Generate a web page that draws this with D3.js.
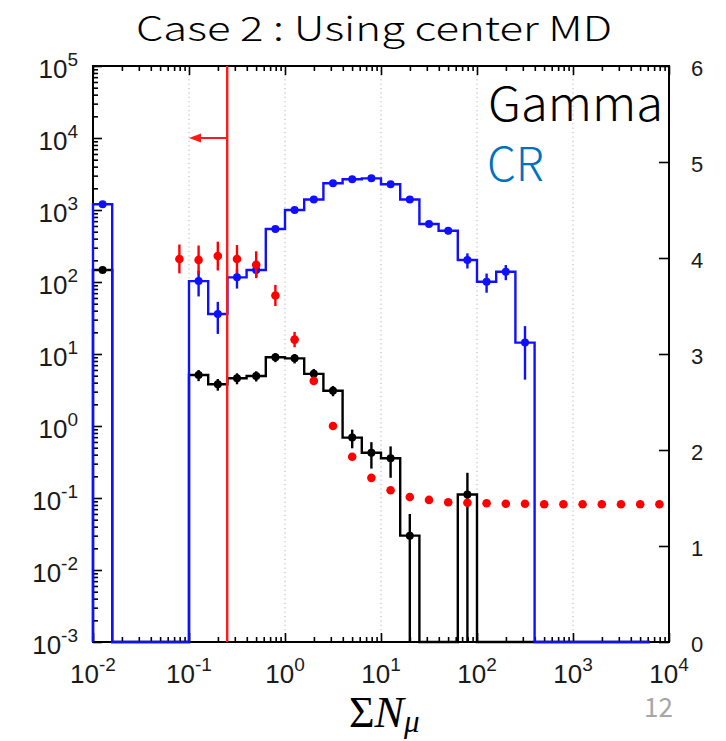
<!DOCTYPE html>
<html>
<head>
<meta charset="utf-8">
<script src="https://cdn.jsdelivr.net/npm/d3@7"></script>
<style>
  body { margin: 0; background: #fff; }
  svg { display: block; }
</style>
</head>
<body>
<svg id="chart" width="726" height="741"></svg>
<script>
// Bin edges as log10 exponents (0.2 decade bins from 1e-2 to 1e4)
const binExp = [-2.0, -1.8, -1.6, -1.4, -1.2, -1.0, -0.8, -0.6, -0.4, -0.2,
                 0.0,  0.2,  0.4,  0.6,  0.8,  1.0,  1.2,  1.4,  1.6,  1.8,
                 2.0,  2.2,  2.4,  2.6,  2.8,  3.0,  3.2,  3.4,  3.6,  3.8, 4.0];

// CR histogram (blue)
const crCounts = [1200, 0, 0, 0, 0, 103, 36, 116, 147, 545,
                  1000, 1400, 2350, 2670, 2750, 2280, 1400, 640, 516, 202,
                  101, 139, 14.4, 0, 0, 0, 0, 0, 0];
const crErrors = [35, 0, 0, 0, 0, 40, 17, 35, 30, 55,
                  70, 85, 110, 115, 120, 110, 85, 60, 55, 48,
                  30, 33, 10, 0, 0, 0, 0, 0, 0];

// Gamma histogram (black)
const gammaCounts = [147, 0, 0, 0, 0, 5.1, 3.8, 4.6, 4.95, 9.0,
                     8.7, 5.3, 3.09, 0.69, 0.426, 0.356, 0.030, 0, 0, 0.112,
                     0, 0, 0, 0, 0, 0, 0, 0, 0];
const gammaErrors = [12, 0, 0, 0, 0, 0.9, 0.7, 0.8, 0.8, 1.3,
                     1.3, 0.9, 0.5, 0.2, 0.17, 0.165, 0.03, 0, 0, 0.112,
                     0, 0, 0, 0, 0, 0, 0, 0, 0];

// Right-axis quantity (red points)
const ratioValues = [null, null, null, null, 3.99, 3.98, 4.02, 3.99, 3.93, 3.61,
                     3.15, 2.72, 2.25, 1.93, 1.71, 1.58, 1.51, 1.48, 1.455, 1.45,
                     1.445, 1.44, 1.44, 1.435, 1.435, 1.435, 1.435, 1.435, 1.435, 1.435];
const ratioErrors = [0, 0, 0, 0, 0.15, 0.15, 0.15, 0.145, 0.14, 0.11,
                     0.08, 0.04, 0, 0, 0, 0, 0, 0, 0, 0,
                     0, 0, 0, 0, 0, 0, 0, 0, 0, 0];

const cutValue = 0.25;
const arrowTarget = 0.1;
const arrowLevel = 1e4;

const xTickExp = [-2, -1, 0, 1, 2, 3, 4];
const yTickExp = [-3, -2, -1, 0, 1, 2, 3, 4, 5];
const y2Ticks = [0, 1, 2, 3, 4, 5, 6];

const titleText = "Case 2 : Using center MD";
const legendGamma = "Gamma";
const legendCR = "CR";
const pageNumber = "12";

// ---- layout ----
const L = 93, R = 669, T = 66, B = 642;
const svg = d3.select("#chart");

const x = d3.scaleLog().domain([1e-2, 1e4]).range([L, R]);
const y = d3.scaleLog().domain([1e-3, 1e5]).range([B, T]).clamp(true);
const y2 = d3.scaleLinear().domain([0, 6]).range([B, T]);

const edges = binExp.map(e => Math.pow(10, e));
const centers = edges.slice(0, -1).map((e, i) => Math.sqrt(e * edges[i + 1]));

// grid (vertical dotted lines at decades)
svg.append("g").selectAll("line")
  .data(xTickExp.slice(1, -1))
  .join("line")
  .attr("x1", d => x(Math.pow(10, d))).attr("x2", d => x(Math.pow(10, d)))
  .attr("y1", T).attr("y2", B)
  .attr("stroke", "#b0b0b0").attr("stroke-width", 1)
  .attr("stroke-dasharray", "1.2,3.2");

// ---- axes (ticks only; labels drawn separately) ----
const minorX = [], minorY = [];
for (let d = -2; d < 4; d++) for (let k = 2; k <= 9; k++) minorX.push(k * Math.pow(10, d));
for (let d = -3; d < 5; d++) for (let k = 2; k <= 9; k++) minorY.push(k * Math.pow(10, d));
const majorX = xTickExp.map(e => Math.pow(10, e));
const majorY = yTickExp.map(e => Math.pow(10, e));

function tickAxis(axisFn, scale, values, size, transform) {
  const g = svg.append("g").attr("transform", transform)
    .call(axisFn(scale).tickValues(values).tickSizeInner(size).tickSizeOuter(0).tickFormat(""));
  g.select(".domain").remove();
  g.selectAll(".tick line").attr("stroke", "#000").attr("stroke-width", 1.6);
  return g;
}
tickAxis(d3.axisBottom, x, majorX, -9, `translate(0,${B})`);
tickAxis(d3.axisBottom, x, minorX, -5, `translate(0,${B})`);
tickAxis(d3.axisTop, x, majorX, -9, `translate(0,${T})`);
tickAxis(d3.axisTop, x, minorX, -5, `translate(0,${T})`);
tickAxis(d3.axisLeft, y, majorY, -9, `translate(${L},0)`);
tickAxis(d3.axisLeft, y, minorY, -5, `translate(${L},0)`);
tickAxis(d3.axisRight, y2, y2Ticks, -10, `translate(${R},0)`);

// frame
svg.append("rect").attr("x", L).attr("y", T).attr("width", R - L).attr("height", B - T)
  .attr("fill", "none").attr("stroke", "#000").attr("stroke-width", 2);

// ---- tick labels ----
const labelFont = "'Liberation Sans', Arial, Helvetica, sans-serif";
function powLabel(px, py, exp, anchor) {
  const t = svg.append("text").attr("x", px).attr("y", py)
    .attr("text-anchor", anchor)
    .attr("font-family", labelFont).attr("font-size", 26).attr("fill", "#1a1a1a");
  t.append("tspan").text("10");
  t.append("tspan").attr("dy", -12).attr("font-size", 19).text(String(exp));
}
yTickExp.forEach(e => powLabel(78, y(Math.pow(10, e)) + 12, e, "end"));
xTickExp.forEach(e => powLabel(x(Math.pow(10, e)), 683, e, "middle"));
y2Ticks.forEach(v => {
  svg.append("text").attr("x", 691).attr("y", y2(v) + 10)
    .attr("font-family", labelFont).attr("font-size", 22).attr("fill", "#1a1a1a")
    .text(v);
});

// ---- histograms ----
const plot = svg.append("g");
function histPath(counts) {
  const pts = [[edges[0], null]];
  counts.forEach((c, i) => { pts.push([edges[i], c]); pts.push([edges[i + 1], c]); });
  pts.push([edges[counts.length], null]);
  return d3.line()
    .x(p => x(p[0]))
    .y(p => (p[1] && p[1] > 0) ? y(p[1]) : B)(pts);
}
function drawHist(counts, errors, color) {
  plot.append("path").attr("d", histPath(counts))
    .attr("fill", "none").attr("stroke", color).attr("stroke-width", 2.4)
    .attr("stroke-linejoin", "miter");
  const idx = counts.map((c, i) => i).filter(i => counts[i] > 0);
  plot.append("g").selectAll("line").data(idx).join("line")
    .attr("x1", i => x(centers[i])).attr("x2", i => x(centers[i]))
    .attr("y1", i => y(counts[i] + errors[i]))
    .attr("y2", i => counts[i] - errors[i] > 0 ? y(counts[i] - errors[i]) : B)
    .attr("stroke", color).attr("stroke-width", 2.4);
  plot.append("g").selectAll("circle").data(idx).join("circle")
    .attr("cx", i => x(centers[i])).attr("cy", i => y(counts[i]))
    .attr("r", 4).attr("fill", color);
}
drawHist(gammaCounts, gammaErrors, "#000000");
drawHist(crCounts, crErrors, "#1010ff");

// ---- red points on right axis ----
const rIdx = ratioValues.map((v, i) => i).filter(i => ratioValues[i] !== null);
plot.append("g").selectAll("line").data(rIdx.filter(i => ratioErrors[i] > 0)).join("line")
  .attr("x1", i => x(centers[i])).attr("x2", i => x(centers[i]))
  .attr("y1", i => y2(ratioValues[i] + ratioErrors[i]))
  .attr("y2", i => y2(ratioValues[i] - ratioErrors[i]))
  .attr("stroke", "#ff0000").attr("stroke-width", 2.4);
plot.append("g").selectAll("circle").data(rIdx).join("circle")
  .attr("cx", i => x(centers[i])).attr("cy", i => y2(ratioValues[i]))
  .attr("r", 4.3).attr("fill", "#ff0000");

// ---- cut line and arrow ----
svg.append("line")
  .attr("x1", x(cutValue)).attr("x2", x(cutValue)).attr("y1", T).attr("y2", B)
  .attr("stroke", "#ff1a1a").attr("stroke-width", 2.4);
const ay = y(arrowLevel), ax0 = x(cutValue), ax1 = x(arrowTarget);
svg.append("line").attr("x1", ax0).attr("x2", ax1 + 8).attr("y1", ay).attr("y2", ay)
  .attr("stroke", "#ff1a1a").attr("stroke-width", 2);
svg.append("path")
  .attr("d", `M${ax1},${ay} L${ax1 + 12},${ay - 4.5} L${ax1 + 12},${ay + 4.5} Z`)
  .attr("fill", "#ff1a1a");

// ---- titles and legend text ----
const jpFont = "'Noto Sans CJK JP', 'Noto Sans', sans-serif";
svg.append("text").attr("x", 136).attr("y", 41)
  .attr("font-family", jpFont).attr("font-size", 34).attr("font-weight", 300)
  .attr("fill", "#000")
  .attr("textLength", 476).attr("lengthAdjust", "spacingAndGlyphs")
  .text(titleText);
svg.append("text").attr("x", 488).attr("y", 121)
  .attr("font-family", jpFont).attr("font-size", 46).attr("font-weight", 300)
  .attr("fill", "#000")
  .attr("textLength", 175).attr("lengthAdjust", "spacingAndGlyphs")
  .text(legendGamma);
svg.append("text").attr("x", 487).attr("y", 181)
  .attr("font-family", jpFont).attr("font-size", 46).attr("font-weight", 300)
  .attr("fill", "#0070c0")
  .text(legendCR);

// x-axis title: Sigma N_mu
const xt = svg.append("text").attr("x", 349).attr("y", 727)
  .attr("font-family", "'Liberation Serif', 'Times New Roman', serif")
  .attr("font-size", 44).attr("fill", "#000");
xt.append("tspan").text("Σ");
xt.append("tspan").attr("font-style", "italic").text("N");
xt.append("tspan").attr("font-style", "italic").attr("font-size", 31).attr("dy", 5).text("μ");

svg.append("text").attr("x", 644).attr("y", 717)
  .attr("font-family", jpFont).attr("font-size", 26).attr("fill", "#a6a6a6")
  .text(pageNumber);
</script>
</body>
</html>
